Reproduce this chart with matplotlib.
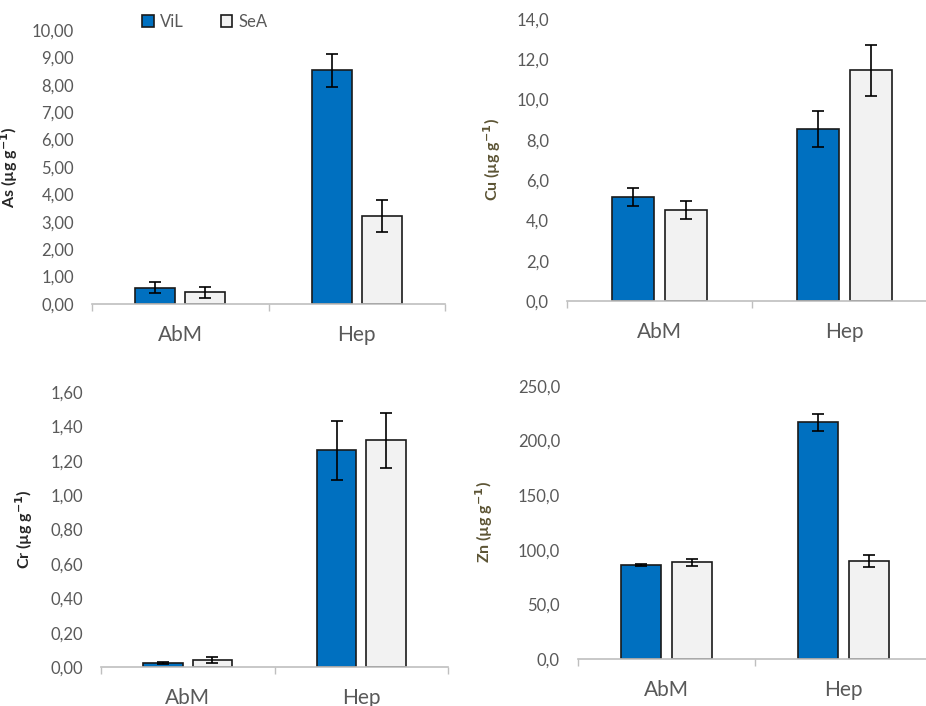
import matplotlib
matplotlib.use("Agg")
import matplotlib.pyplot as plt
from matplotlib.patches import Patch
import numpy as np

plt.rcParams['font.family'] = ['Lato', 'DejaVu Sans']

categories = ['AbM', 'Hep']
series = ['ViL', 'SeA']

as_vil = [0.60, 8.53]
as_vil_err = [0.20, 0.60]
as_sea = [0.42, 3.21]
as_sea_err = [0.21, 0.58]

cu_vil = [5.16, 8.54]
cu_vil_err = [0.44, 0.88]
cu_sea = [4.52, 11.46]
cu_sea_err = [0.43, 1.27]

cr_vil = [0.025, 1.26]
cr_vil_err = [0.005, 0.17]
cr_sea = [0.041, 1.32]
cr_sea_err = [0.017, 0.16]

zn_vil = [85.9, 216.6]
zn_vil_err = [1.0, 8.0]
zn_sea = [88.4, 89.8]
zn_sea_err = [3.0, 5.5]

blue = '#0070C0'
light = '#F2F2F2'
grey = '#595959'
olive = '#5C5434'

W, H = 926, 706
fig = plt.figure(figsize=(W / 100, H / 100), dpi=100)


def panel(left, right, zero_y, top_y, ymax, step, fmt, vil, vil_err, sea, sea_err,
          label, label_color, label_x):
    ax = fig.add_axes([left / W, 1 - zero_y / H, (right - left) / W, (zero_y - top_y) / H])
    x = np.arange(len(categories))
    ax.bar(x - 0.142, vil, 0.227, color=blue, edgecolor='#1a1a1a', linewidth=1.2,
           yerr=vil_err, capsize=4, error_kw=dict(ecolor='black', elinewidth=1.2, capthick=1.2))
    ax.bar(x + 0.142, sea, 0.227, color=light, edgecolor='#1a1a1a', linewidth=1.2,
           yerr=sea_err, capsize=4, error_kw=dict(ecolor='black', elinewidth=1.2, capthick=1.2))
    ax.set_xlim(-0.5, 1.5)
    ax.set_ylim(0, ymax)
    ticks = np.arange(0, ymax + step / 2, step)
    ax.set_yticks(ticks)
    ax.set_yticklabels([fmt.format(t).replace('.', ',') for t in ticks])
    ax.set_xticks(x)
    ax.set_xticklabels(categories, fontsize=15, color=grey)
    ax.set_xticks([-0.5, 0.5, 1.5], minor=True)
    ax.tick_params(axis='x', which='major', length=0, pad=15)
    ax.tick_params(axis='x', which='minor', length=5, color='#bfbfbf', width=1)
    ax.tick_params(axis='y', length=0, pad=13, labelsize=12, labelcolor=grey)
    for s in ['top', 'right', 'left']:
        ax.spines[s].set_visible(False)
    ax.spines['bottom'].set_color('#bfbfbf')
    ax.spines['bottom'].set_linewidth(1.2)
    ax.set_ylabel(label, fontsize=11.5, fontweight='bold', color=label_color)
    ax.yaxis.set_label_coords(label_x, 0.5)
    ax.patch.set_alpha(0)
    return ax


ax1 = panel(92, 445, 304, 30, 10, 1, '{:.2f}', as_vil, as_vil_err, as_sea, as_sea_err,
            'As (µg g$^{\\mathbf{-1}}$)', '#262626', -0.204)
ax2 = panel(567, 937, 301, 19, 14, 2, '{:.1f}', cu_vil, cu_vil_err, cu_sea, cu_sea_err,
            'Cu (µg g$^{\\mathbf{-1}}$)', olive, -0.173)
ax3 = panel(101, 448, 667, 392, 1.6, 0.2, '{:.2f}', cr_vil, cr_vil_err, cr_sea, cr_sea_err,
            'Cr (µg g$^{\\mathbf{-1}}$)', '#262626', -0.19)
ax4 = panel(578, 932, 659, 386, 250, 50, '{:.1f}', zn_vil, zn_vil_err, zn_sea, zn_sea_err,
            'Zn (µg g$^{\\mathbf{-1}}$)', olive, -0.234)

handles = [Patch(facecolor=blue, edgecolor='#1a1a1a', linewidth=1.2),
           Patch(facecolor=light, edgecolor='#1a1a1a', linewidth=1.2)]
fig.legend(handles, series, loc='center', bbox_to_anchor=(205 / W, 1 - 22 / H), ncol=2,
           frameon=False, fontsize=12, labelcolor=grey, handlelength=0.7, handleheight=0.7,
           handletextpad=0.4, columnspacing=2.2)

fig.savefig('out.png', dpi=100)
